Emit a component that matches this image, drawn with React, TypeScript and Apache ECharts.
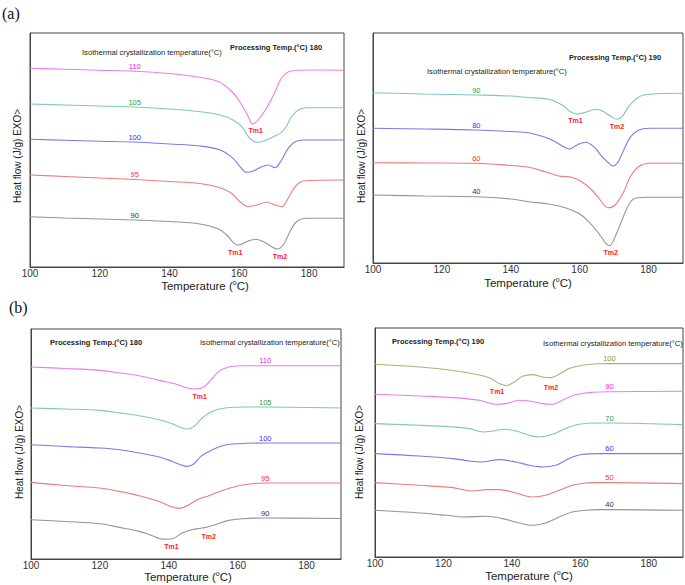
import React, { useEffect, useRef } from 'react';
import * as echarts from 'echarts';

const FONT = '"Liberation Sans", Arial, Helvetica, sans-serif';

// ---------- Panel (a) left : Processing Temp. 180 ----------
const aL_110 = [[100,198.7],[110,197.8],[120,196.8],[130,195.8],[140,193.5],[148,190],[154,185.5],[158,175],[160.7,162],[162.6,150],[163.8,143],[165.4,147],[167.8,159],[170.2,175],[172.1,189],[174,195],[176.4,196.7],[180,197],[190,196.7]];
const aL_105 = [[100,163],[110,162],[120,161],[130,160],[140,158],[148.7,155.3],[154.5,152],[158.2,147],[160.7,140.3],[162.6,130.3],[164,126],[165.4,124.7],[167.8,127],[170.2,131],[172.1,134.7],[173.4,140.3],[175,150.3],[176.9,157],[179.3,159.3],[190,159.3]];
const aL_100 = [[100,127.7],[110,126.7],[120,125.8],[130,125],[140,123],[148.7,121],[154.5,117],[158.2,108.7],[160.2,100.3],[162.1,94.7],[164,96],[166.4,100.3],[168.3,102],[170.2,99.3],[172.1,107],[174,118.7],[176,125.3],[178.3,127],[190,127]];
const aL_95 = [[100,92],[110,90.5],[120,89],[130,87.5],[140,85.5],[148.7,83.5],[154.5,79.3],[157.7,73.7],[160.2,65.3],[162.6,60.3],[165,62],[167.8,64.7],[170.2,62],[172.1,60.3],[174,68.7],[176,80.3],[178.3,86],[190,87]];
const aL_90 = [[100,50.3],[110,49],[120,48],[130,47],[140,45.5],[148.7,43],[153.5,38.7],[156.4,32],[158.2,24.7],[159.7,22],[162.1,25.3],[164.5,27.7],[166.9,25.3],[169.3,20.3],[170.8,18],[172.6,22],[174.5,35.3],[176.4,45.3],[179.3,48.7],[190,48.7]];
const aL_names = ['110', '105', '100', '95', '90'];
const aL_labelT = 130;
const aL_tm = [{ s: 0, t: 163.8, text: 'Tm1' }, { s: 4, t: 159.7, text: 'Tm1' }, { s: 4, t: 170.8, text: 'Tm2' }];

// ---------- Panel (a) right : Processing Temp. 190 ----------
const aR_90 = [[100,170.3],[115,169],[130,168],[140,167],[145,165.5],[151,163.7],[154.9,158],[157.3,151.3],[159.5,149],[161.7,150.7],[164.5,153.7],[167,151.3],[169.4,145.7],[170.8,143.7],[172.3,146.3],[174.2,156.3],[176.6,164.7],[179,168.3],[190,169.7]];
const aR_80 = [[100,134.7],[115,134],[130,133],[140,131.5],[145.2,130.3],[150,125.7],[152.9,121.3],[155.3,116.3],[157,114],[159.2,118],[161.7,120.7],[164.1,116.3],[166.5,106.3],[168.5,99.7],[169.6,97],[170.9,99.7],[172.8,113],[174.8,126.3],[177.2,133],[180.1,134.7],[190,134.7]];
const aR_60 = [[100,100.3],[115,100],[130,99.7],[140,97.5],[145.2,95.7],[150,91.3],[153.9,87],[157.7,85.7],[160.6,81.3],[163.5,73],[166,63],[168.2,55.3],[170.3,58],[172.8,71.3],[174.7,86.3],[177.1,96.3],[180.1,99.7],[190,99.7]];
const aR_40 = [[100,68],[115,67],[130,66.3],[140,64],[145.2,61.3],[151,59],[155.8,55.3],[159.7,49.7],[162.6,41.3],[165.5,29.7],[167.6,19.7],[168.7,17.3],[170.3,26.3],[172.3,43],[174.2,58],[176.1,64.7],[180.1,65.7],[190,65.7]];
const aR_names = ['90', '80', '60', '40'];
const aR_labelT = 130;
const aR_tm = [{ s: 0, t: 159.5, text: 'Tm1' }, { s: 0, t: 170.8, text: 'Tm2' }, { s: 3, t: 168.7, text: 'Tm2' }];

// ---------- Panel (b) left : Processing Temp. 180 ----------
const bL_110 = [[100,192],[110,190.5],[120,188.6],[125.7,186],[131.4,183.3],[137.2,178.6],[142,175],[145.4,171],[147.8,170],[150.2,172],[152.1,178.6],[154.5,187.6],[157.4,192],[162.2,193.3],[168,193.3],[190,193.3]];
const bL_105 = [[100,151],[110,150],[120,148.6],[125.7,146],[131.4,143.3],[137.2,139.3],[141,135.3],[143.4,131.6],[145.4,130],[147.3,132.6],[149.7,141],[152.6,147.6],[156.4,151],[162.2,152],[168,152],[190,151]];
const bL_100 = [[100,114.3],[110,112.5],[120,111],[125.7,109.3],[131.4,106],[137.2,102],[141,97.6],[143.4,94.3],[145.4,92.6],[147.3,95.3],[149.3,102.6],[151.7,107.6],[155.5,113.3],[160.3,115.3],[168,116],[190,116]];
const bL_95 = [[100,76.6],[110,73.5],[120,71],[125.7,67.6],[131.4,63.3],[137.2,57.6],[140.5,52.6],[142.9,50.6],[145.4,53.3],[148.2,59.3],[151.7,63.3],[155.5,68.6],[160.3,73.3],[164.2,75.3],[168,76],[190,76]];
const bL_90 = [[100,39.3],[110,37.5],[120,35.3],[125.7,31.6],[131.4,27.6],[135.2,23.3],[137.5,20.3],[139.6,19.8],[141.3,20.5],[143.9,26],[146.7,29.3],[149.7,31],[151.6,32.3],[153.5,34.3],[157.4,38.6],[161.2,40.3],[168,41],[190,40.5]];
const bL_names = ['110', '105', '100', '95', '90'];
const bL_labelT = 168;
const bL_tm = [{ s: 0, t: 147.8, text: 'Tm1' }, { s: 4, t: 139.6, text: 'Tm1' }, { s: 4, t: 151.6, text: 'Tm2' }];

// ---------- Panel (b) right : Processing Temp. 190 ----------
const bR_100 = [[100,192.7],[113,190],[122.8,186.5],[130.5,182],[133.9,178.4],[136.3,173.4],[138.3,171.4],[140.7,175],[143.1,180.7],[146,182.4],[148.9,180],[151.4,179.4],[153.8,182.7],[156.7,188.4],[160.6,191.7],[165.4,193.2],[168.5,193.4],[190,193.4]];
const bR_90 = [[100,162.7],[113,161],[122.8,159.4],[130.5,156.7],[135.4,152.7],[138.3,153.4],[142.2,156.7],[145.1,156],[148.9,153.4],[151.8,152.7],[154.7,156.7],[158.1,161.7],[162.5,164.4],[168.5,165.3],[190,165.7]];
const bR_70 = [[100,133.4],[113,131.7],[122.8,130],[127.6,128.4],[131.5,125],[134.4,126],[137.8,127.7],[141.2,126],[145.1,121.7],[148,120],[151.8,122.7],[155.7,128.4],[159.6,132.7],[165.4,134],[168.5,134],[190,132.4]];
const bR_60 = [[100,103.4],[113,101],[122.8,98.4],[127.6,96],[131,95],[136.3,97.4],[141.2,95],[145.1,91.7],[148.9,90],[152.8,91.7],[156.7,98.4],[160.6,102.7],[165.4,103.4],[168.5,103.4],[190,103.4]];
const bR_50 = [[100,74.4],[113,71.7],[122.8,69.4],[125.7,67.4],[128.6,66],[132.5,67.4],[136.3,67.4],[141.2,64],[146,60],[149.9,61.7],[153.8,66.7],[157.6,71.7],[161.5,74],[165.4,74.4],[168.5,74.4],[190,73.4]];
const bR_40 = [[100,46.7],[113,44],[120.9,41.7],[125.7,40],[132.5,40.7],[137.3,38.4],[142.2,34],[146,31.7],[149.9,34],[153.8,40],[157.6,45],[161.5,46.7],[165.4,47.4],[168.5,47.4],[190,46.7]];
const bR_names = ['100', '90', '70', '60', '50', '40'];
const bR_labelT = 168.5;
const bR_tm = [{ s: 0, t: 138.3, text: 'Tm1' }, { s: 0, t: 151.4, text: 'Tm2' }];

const xTicks = { min: 100, max: 190, interval: 20 };

// colours: [line, label]
const C = {
  magenta: ['#f07af0', '#e820e8'],
  teal: ['#7cc6c6', '#339940'],
  blue: ['#7a7af0', '#3030ff'],
  red: ['#f27a7a', '#ff3030'],
  gray: ['#959595', '#333333'],
  olive: ['#b0b070', '#8c8c40'],
};
const TM_COLOR = '#ff1a1a';

// Tm label fine placement (distance below point, x offset)
const tmStyle: Record<string, [number, number]> = {
  'aL-0-163.8': [3, 3], 'aL-4-159.7': [3.5, -3], 'aL-4-170.8': [3.5, 3],
  'aR-0-159.5': [2.5, -2.5], 'aR-0-170.8': [4, 0], 'aR-3-168.7': [3.5, 1],
  'bL-0-147.8': [4, 4], 'bL-4-139.6': [4, 4], 'bL-4-151.6': [6.5, 0],
  'bR-0-138.3': [2, -9], 'bR-0-151.4': [6, 0],
};

function buildSeries(key: string, grid: number, sets: number[][][], names: string[], colors: string[][], labelT: number, tms: { s: number; t: number; text: string }[]) {
  return sets.map((pts, si) => {
    const data = pts.map((p) => {
      const tm = tms.find((m) => m.s === si && m.t === p[0]);
      if (p[0] === labelT) {
        return {
          value: p,
          label: {
            show: true, position: 'top', distance: 1, formatter: names[si],
            fontSize: 7.5, fontFamily: FONT, color: colors[si][1],
          },
        };
      }
      if (tm) {
        const st = tmStyle[`${key}-${si}-${tm.t}`] || [3, 0];
        return {
          value: p,
          label: {
            show: true, position: 'bottom', distance: st[0], offset: [st[1], 0], formatter: tm.text,
            fontSize: 7, fontWeight: 'bold', fontFamily: FONT, color: TM_COLOR,
          },
        };
      }
      return { value: p };
    });
    return {
      type: 'line',
      name: `${key}-${names[si]}`,
      xAxisIndex: grid,
      yAxisIndex: grid,
      data,
      smooth: 0.35,
      symbol: 'circle',
      symbolSize: 0,
      showSymbol: true,
      showAllSymbol: true,
      lineStyle: { color: colors[si][0], width: 1.1 },
      itemStyle: { color: colors[si][0] },
      emphasis: { disabled: true },
      silent: true,
      z: 3,
    };
  });
}

const grids = [
  { left: 30, top: 33, width: 314, height: 234, ymax: 234 },
  { left: 373, top: 33, width: 310, height: 230, ymax: 230 },
  { left: 31, top: 329, width: 310, height: 230, ymax: 230 },
  { left: 375, top: 328, width: 308, height: 229, ymax: 229 },
];

function txt(x: number, y: number, text: string, size: number, opts: any = {}) {
  return {
    type: 'text', x, y, silent: true, z: 10,
    rotation: opts.rotation || 0,
    style: {
      text, fontSize: size, fontFamily: opts.family || FONT, fontWeight: opts.bold ? 'bold' : 'normal',
      fill: opts.color || '#222', align: opts.align || 'left', verticalAlign: 'middle',
    },
  };
}

function tempTitle(x: number, y: number) {
  return {
    type: 'text', x, y, silent: true, z: 10,
    style: {
      text: '{n|Temperature (}{s|o}{n|C)}',
      align: 'center', verticalAlign: 'middle',
      rich: {
        n: { fontSize: 11.5, fontFamily: FONT, fill: '#222', lineHeight: 14 },
        s: { fontSize: 7, fontFamily: FONT, fill: '#222', verticalAlign: 'top', lineHeight: 14, padding: [0, 0, 6, 0] },
      },
    },
  };
}

export default function App() {
  const ref = useRef<HTMLDivElement>(null);
  useEffect(() => {
    if (!ref.current) return;
    const chart = echarts.init(ref.current, undefined, { renderer: 'svg' });
    const series = [
      ...buildSeries('aL', 0, [aL_110, aL_105, aL_100, aL_95, aL_90], aL_names, [C.magenta, C.teal, C.blue, C.red, C.gray], aL_labelT, aL_tm),
      ...buildSeries('aR', 1, [aR_90, aR_80, aR_60, aR_40], aR_names, [C.teal, C.blue, C.red, C.gray], aR_labelT, aR_tm),
      ...buildSeries('bL', 2, [bL_110, bL_105, bL_100, bL_95, bL_90], bL_names, [C.magenta, C.teal, C.blue, C.red, C.gray], bL_labelT, bL_tm),
      ...buildSeries('bR', 3, [bR_100, bR_90, bR_70, bR_60, bR_50, bR_40], bR_names, [C.olive, C.magenta, C.teal, C.blue, C.red, C.gray], bR_labelT, bR_tm),
    ];
    const yTitle = 'Heat flow (J/g) EXO>';
    chart.setOption({
      animation: false,
      backgroundColor: '#ffffff',
      grid: grids.map((g) => ({
        left: g.left, top: g.top, width: g.width, height: g.height,
        show: true, borderColor: '#444', borderWidth: 1, backgroundColor: 'transparent',
      })),
      xAxis: grids.map((_, i) => ({
        type: 'value', gridIndex: i, min: xTicks.min, max: xTicks.max, interval: xTicks.interval,
        axisLine: { show: true, lineStyle: { color: '#444', width: 1 } },
        axisTick: { show: false },
        splitLine: { show: false },
        axisLabel: { fontSize: 10, fontFamily: FONT, color: '#333', margin: 1, showMaxLabel: false },
      })),
      yAxis: grids.map((g, i) => ({
        type: 'value', gridIndex: i, min: 0, max: g.ymax,
        axisLine: { show: true, lineStyle: { color: '#444', width: 1 } },
        axisTick: { show: false }, axisLabel: { show: false }, splitLine: { show: false },
      })),
      series,
      graphic: [
        txt(2, 13, '(a)', 16, { family: '"Liberation Serif", "Times New Roman", serif', color: '#111' }),
        txt(9, 307, '(b)', 16, { family: '"Liberation Serif", "Times New Roman", serif', color: '#111' }),
        // y titles
        txt(17, 156, yTitle, 10, { rotation: Math.PI / 2, align: 'center' }),
        txt(361, 156, yTitle, 10, { rotation: Math.PI / 2, align: 'center' }),
        txt(19, 452, yTitle, 10, { rotation: Math.PI / 2, align: 'center' }),
        txt(359, 452, yTitle, 10, { rotation: Math.PI / 2, align: 'center' }),
        // x titles
        tempTitle(205, 286),
        tempTitle(528, 283),
        tempTitle(188, 577),
        tempTitle(529, 576),
        // annotations
        txt(82, 52, 'Isothermal crystallization temperature(°C)', 7.6),
        txt(230, 47, 'Processing Temp.(°C) 180', 7.5, { bold: true }),
        txt(569, 57, 'Processing Temp.(°C) 190', 7.5, { bold: true }),
        txt(427, 71, 'Isothermal crystallization temperature(°C)', 7.6),
        txt(50, 342, 'Processing Temp.(°C) 180', 7.5, { bold: true }),
        txt(200, 342, 'Isothermal crystallization temperature(°C)', 7.6),
        txt(392, 341, 'Processing Temp.(°C) 190', 7.5, { bold: true }),
        txt(543, 343, 'Isothermal crystallization temperature(°C)', 7.6),
      ],
    });
    return () => chart.dispose();
  }, []);
  return <div ref={ref} style={{ position: 'absolute', left: 0, top: 0, width: 685, height: 585 }} />;
}
